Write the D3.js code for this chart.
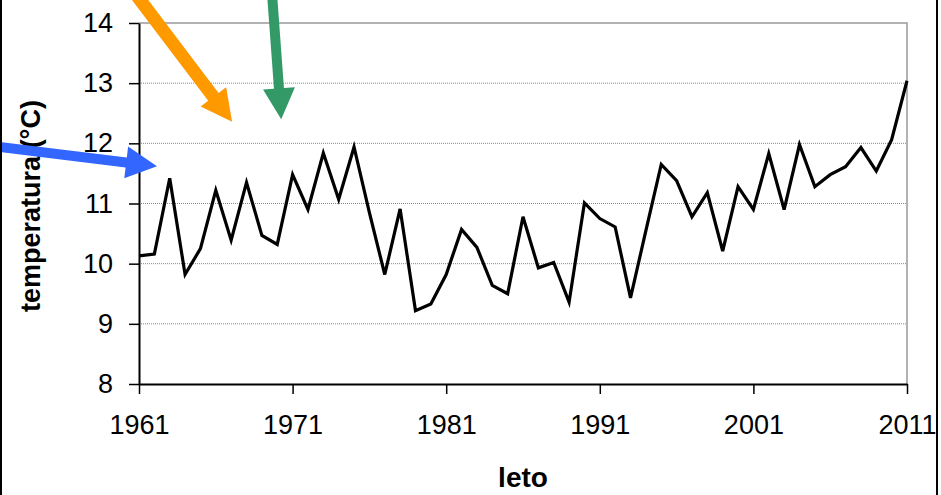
<!DOCTYPE html>
<html lang="sl">
<head>
    <meta charset="UTF-8">
    <title>temperatura</title>
</head>

<script src="https://cdn.jsdelivr.net/npm/d3@7"></script>

<style>
    body {
        margin: 0;
        background-color: #fff;
    }
    text {
        font-family: "Liberation Sans", Arial, sans-serif;
    }
</style>
<body>
    <div id="graphic"></div>
</body>

<script>
    // years and mean temperature (°C)
    var years = d3.range(1961, 2012);
    var temps = [
        10.13, 10.16, 11.42, 9.82, 10.25, 11.22, 10.39, 11.35, 10.47, 10.32,
        11.48, 10.90, 11.84, 11.07, 11.94, 10.85, 9.82, 10.91, 9.22, 9.33,
        9.82, 10.57, 10.27, 9.64, 9.50, 10.78, 9.93, 10.02, 9.36, 11.01,
        10.75, 10.61, 9.43, 10.55, 11.65, 11.38, 10.78, 11.18, 10.21, 11.28,
        10.90, 11.83, 10.90, 11.98, 11.28, 11.48, 11.61, 11.93, 11.54, 12.06,
        13.04
    ];
    var yTicks = [8, 9, 10, 11, 12, 13, 14];
    var xTicks = [1961, 1971, 1981, 1991, 2001, 2011];

    // annotation arrows, in data units (year, temperature)
    var arrowColors = ['#FF9900', '#339966', '#3366FF'];
    var arrowFrom = [[1960.87, 14.45], [1969.67, 14.45], [1951.9, 11.94]];
    var arrowTo = [[1967.06, 12.36], [1970.26, 12.40], [1962.17, 11.62]];
    var arrowWidth = [13, 10, 10];

    var width = 941;
    var height = 495;
    var margin = {top: 23, right: 34, bottom: 111, left: 139};

    var svg = d3.select('#graphic')
                .append('svg')
                .attr('width', width)
                .attr('height', height);

    svg.append('rect')
        .attr('width', width)
        .attr('height', height)
        .attr('fill', '#fff');

    var x = d3.scaleLinear()
        .domain([1961, 2011])
        .range([margin.left, width - margin.right]);

    var y = d3.scaleLinear()
        .domain([8, 14])
        .range([height - margin.bottom, margin.top]);

    // gridlines
    svg.append('g')
        .selectAll('line')
        .data(yTicks.slice(1, -1))
        .join('line')
        .attr('x1', x(1961))
        .attr('x2', x(2011))
        .attr('y1', d => y(d))
        .attr('y2', d => y(d))
        .attr('stroke', '#888')
        .attr('stroke-width', 1)
        .attr('stroke-dasharray', '1,1');

    // plot area border (top + right)
    svg.append('path')
        .attr('d', 'M' + x(1961) + ',' + y(14) + 'H' + x(2011) + 'V' + y(8))
        .attr('fill', 'none')
        .attr('stroke', '#999')
        .attr('stroke-width', 1.5);

    // the series
    var line = d3.line()
        .x((d, i) => x(years[i]))
        .y(d => y(d));

    svg.append('path')
        .datum(temps)
        .attr('d', line)
        .attr('fill', 'none')
        .attr('stroke', '#000')
        .attr('stroke-width', 3.2)
        .attr('stroke-linejoin', 'miter');

    // axes
    var xAxis = d3.axisBottom(x)
        .tickValues(xTicks)
        .tickFormat(d3.format('d'))
        .tickSizeInner(10)
        .tickSizeOuter(0)
        .tickPadding(21);

    var yAxis = d3.axisLeft(y)
        .tickValues(yTicks)
        .tickFormat(d3.format('d'))
        .tickSizeInner(10)
        .tickSizeOuter(0)
        .tickPadding(16);

    var gx = svg.append('g')
        .attr('transform', 'translate(0,' + y(8) + ')')
        .call(xAxis);

    var gy = svg.append('g')
        .attr('transform', 'translate(' + x(1961) + ',0)')
        .call(yAxis);

    [gx, gy].forEach(function(g) {
        g.select('.domain').attr('stroke', '#000').attr('stroke-width', 2);
        g.selectAll('.tick line').attr('stroke', '#000').attr('stroke-width', 1.5);
        g.selectAll('.tick text')
            .attr('fill', '#000')
            .style('font-size', '27px')
            .style('font-family', '"Liberation Sans", Arial, sans-serif');
    });

    // axis titles
    svg.append('text')
        .attr('x', x(1986))
        .attr('y', 487)
        .attr('text-anchor', 'middle')
        .style('font-size', '28px')
        .style('font-weight', 'bold')
        .text('leto');

    svg.append('text')
        .attr('transform', 'translate(40,' + 206 + ') rotate(-90)')
        .attr('text-anchor', 'middle')
        .style('font-size', '27px')
        .style('font-weight', 'bold')
        .text('temperatura (°C)');

    // arrows
    function arrowPath(i) {
        var x0 = x(arrowFrom[i][0]), y0 = y(arrowFrom[i][1]);
        var x1 = x(arrowTo[i][0]), y1 = y(arrowTo[i][1]);
        var len = Math.hypot(x1 - x0, y1 - y0);
        var ux = (x1 - x0) / len, uy = (y1 - y0) / len;
        var px = -uy, py = ux;
        var headLen = 31, headW = 32, w = arrowWidth[i];
        var bx = x1 - ux * headLen, by = y1 - uy * headLen;
        var pts = [
            [x0 + px * w / 2, y0 + py * w / 2],
            [bx + px * w / 2, by + py * w / 2],
            [bx + px * headW / 2, by + py * headW / 2],
            [x1, y1],
            [bx - px * headW / 2, by - py * headW / 2],
            [bx - px * w / 2, by - py * w / 2],
            [x0 - px * w / 2, y0 - py * w / 2]
        ];
        return 'M' + pts.map(p => p.join(',')).join('L') + 'Z';
    }

    svg.append('g')
        .selectAll('path')
        .data(arrowColors)
        .join('path')
        .attr('d', (d, i) => arrowPath(i))
        .attr('fill', d => d);

    // outer chart frame
    svg.append('rect')
        .attr('x', 1)
        .attr('y', -10)
        .attr('width', 936)
        .attr('height', height + 20)
        .attr('fill', 'none')
        .attr('stroke', '#000')
        .attr('stroke-width', 2);
</script>

</html>
